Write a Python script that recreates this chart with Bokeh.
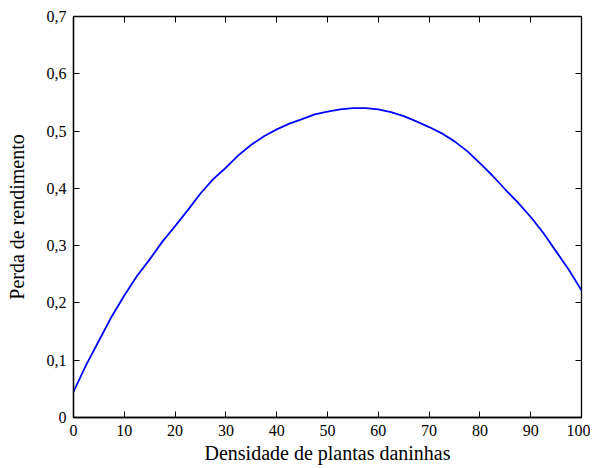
from bokeh.plotting import figure
from bokeh.models import LinearAxis, FixedTicker, Range1d
from bokeh.embed import file_html
from bokeh.resources import INLINE

# data
densidade = [0, 2.5, 5, 7.5, 10, 12.5, 15, 17.5, 20, 22.5, 25, 27.5, 30, 32.5, 35, 37.5, 40,
             42.5, 45, 47.5, 50, 52.5, 55, 57.5, 60, 62.5, 65, 67.5, 70, 72.5, 75, 77.5, 80,
             82.5, 85, 87.5, 90, 92.5, 95, 97.5, 100]
perda = [0.045, 0.092, 0.134, 0.176, 0.213, 0.247, 0.276, 0.307, 0.334, 0.362, 0.391, 0.416,
         0.436, 0.458, 0.476, 0.491, 0.503, 0.513, 0.521, 0.529, 0.534, 0.538, 0.540, 0.540,
         0.538, 0.533, 0.526, 0.517, 0.507, 0.496, 0.482, 0.465, 0.444, 0.422, 0.398, 0.375,
         0.350, 0.322, 0.290, 0.258, 0.222]

x_ticks = [0, 10, 20, 30, 40, 50, 60, 70, 80, 90, 100]
y_ticks = [0, 0.1, 0.2, 0.3, 0.4, 0.5, 0.6, 0.7]
y_tick_labels = ["0", "0,1", "0,2", "0,3", "0,4", "0,5", "0,6", "0,7"]

FONT = "Liberation Serif"

p = figure(width=590, height=466, output_backend="svg", toolbar_location=None,
           x_range=Range1d(0, 100), y_range=Range1d(0, 0.7),
           min_border_left=73, min_border_right=9, min_border_top=16, min_border_bottom=48)
p.background_fill_color = "white"
p.border_fill_color = "white"
p.outline_line_color = "black"
p.outline_line_width = 1.3
p.grid.visible = False

p.line(densidade, perda, line_color="#0000ff", line_width=1.8)

xa = p.xaxis[0]
ya = p.yaxis[0]
xa.ticker = FixedTicker(ticks=x_ticks)
ya.ticker = FixedTicker(ticks=y_ticks)
ya.major_label_overrides = {v: s for v, s in zip(y_ticks, y_tick_labels)}
xa.axis_label = "Densidade de plantas daninhas"
ya.axis_label = "Perda de rendimento"

for ax in (xa, ya):
    ax.axis_line_color = "black"
    ax.axis_line_width = 1.3
    ax.major_tick_in = 6
    ax.major_tick_out = 0
    ax.major_tick_line_color = "black"
    ax.minor_tick_line_color = None
    ax.major_label_text_font = FONT
    ax.major_label_text_font_size = "16px"
    ax.major_label_text_font_style = "normal"
    ax.major_label_text_color = "black"
    ax.axis_label_text_font = FONT
    ax.axis_label_text_font_size = "20px"
    ax.axis_label_text_font_style = "normal"
    ax.axis_label_text_color = "black"

xa.major_label_standoff = 7
xa.axis_label_standoff = 3
ya.major_label_standoff = 7
ya.axis_label_standoff = 16

top = LinearAxis(ticker=FixedTicker(ticks=x_ticks))
right = LinearAxis(ticker=FixedTicker(ticks=y_ticks))
top.major_label_overrides = {v: "" for v in x_ticks}
right.major_label_overrides = {v: "" for v in y_ticks}
for ax in (top, right):
    ax.axis_line_color = None
    ax.major_tick_in = 6
    ax.major_tick_out = 0
    ax.major_tick_line_color = "black"
    ax.minor_tick_line_color = None
    ax.major_label_text_font_size = "8px"
    ax.major_label_standoff = 0
p.add_layout(top, "above")
p.add_layout(right, "right")

open("out.html", "w").write(file_html(p, INLINE))
